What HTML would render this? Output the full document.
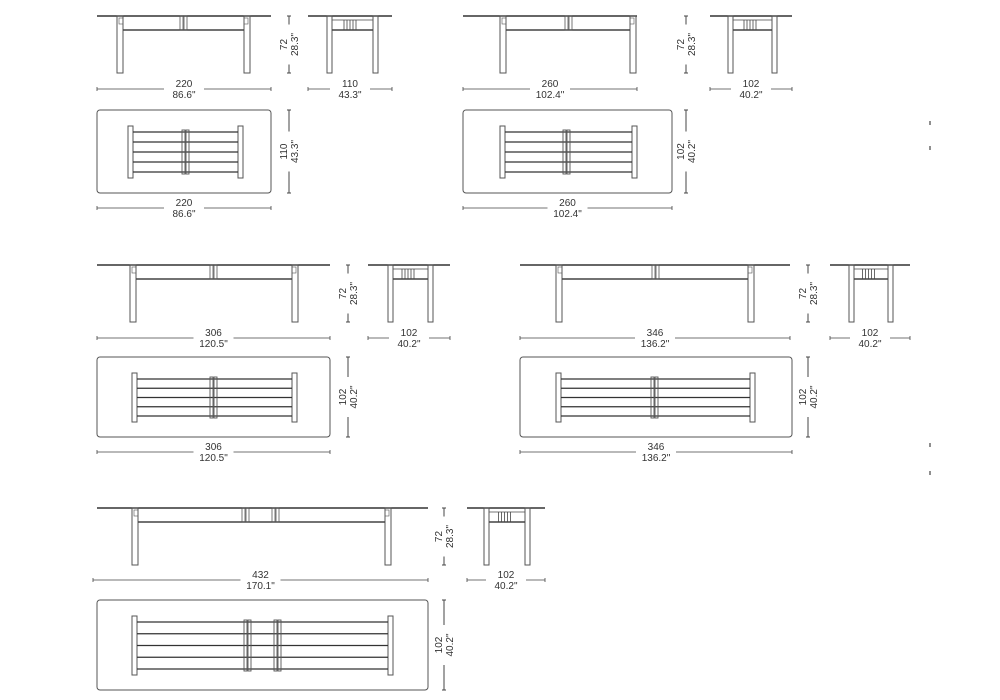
<!DOCTYPE html>
<html><head><meta charset="utf-8"><style>
html,body{margin:0;padding:0;background:#fff;width:1000px;height:700px;overflow:hidden}
svg text{font-family:"Liberation Sans",sans-serif;font-size:10px;fill:#333}
</style></head><body>
<svg id="s" width="1000" height="700" viewBox="0 0 1000 700" xmlns="http://www.w3.org/2000/svg">
<g stroke="#444" stroke-width="1.2">
<line x1="930" y1="121" x2="930" y2="125"/><line x1="930" y1="146" x2="930" y2="150"/>
<line x1="930" y1="443" x2="930" y2="447"/><line x1="930" y1="471" x2="930" y2="475"/>
</g>
</svg>
<script>
var S=document.getElementById('s'),NS='http://www.w3.org/2000/svg';
function el(t,a,txt){var e=document.createElementNS(NS,t);for(var k in a)e.setAttribute(k,a[k]);if(txt)e.textContent=txt;S.appendChild(e);return e;}
function ln(x1,y1,x2,y2,w,c){el('line',{x1:x1,y1:y1,x2:x2,y2:y2,stroke:c||'#444','stroke-width':w||1});}
function rc(x,y,w,h,sw,r){el('rect',{x:x,y:y,width:w,height:h,fill:'none',stroke:'#555','stroke-width':sw||1,rx:r||0});}
function hdim(x0,x1,y,a,b){var m=(x0+x1)/2;ln(x0,y,m-20,y,0.8);ln(m+20,y,x1,y,0.8);ln(x0,y-2,x0,y+2,0.8);ln(x1,y-2,x1,y+2,0.8);
el('text',{x:m,y:y-2,'text-anchor':'middle'},a);el('text',{x:m,y:y+9,'text-anchor':'middle'},b);}
function vdim(x,y0,y1,a,b){ln(x,y0,x,y1,1);ln(x-2,y0,x+2,y0,1);ln(x-2,y1,x+2,y1,1);var m=(y0+y1)/2;
el('rect',{x:x-10,y:m-20,width:20,height:40,fill:'#fff'});
el('text',{x:0,y:0,'text-anchor':'middle',transform:'translate('+(x-2)+','+m+') rotate(-90)'},a);
el('text',{x:0,y:0,'text-anchor':'middle',transform:'translate('+(x+9)+','+m+') rotate(-90)'},b);}
function side(x0,x1,y,l1,l2,H,posts){ln(x0,y,x1,y,1.6,'#333');rc(l1,y,6,H);rc(l2,y,6,H);
ln(l1+6,y+14,l2,y+14,1.5);rc(l1+2,y+2,4,6,0.6);rc(l2,y+2,4,6,0.6);
posts.forEach(function(p){rc(p,y,3,14,0.8);rc(p+4,y,3,14,0.8);});}
function end(x0,x1,y,l1,l2,H){ln(x0,y,x1,y,1.6,'#333');rc(l1,y,5,H);rc(l2,y,5,H);
rc(l1+5,y+4,l2-l1-5,10,0.8);var m=(l1+l2)/2;for(var i=-2;i<=2;i++)ln(m+i*3,y+4,m+i*3,y+14,0.8);
ln(l1+5,y+14,l2,y+14,1.5);}
function plan(x0,x1,y0,y1,e1,e2,posts){rc(x0,y0,x1-x0,y1-y0,1,3);var t=y0+16,b=y1-15;
rc(e1,t,5,b-t,1);rc(e2,t,5,b-t,1);var n=5;for(var i=0;i<n;i++){var yy=t+6+i*(b-t-12)/(n-1);ln(e1+5,yy,e2,yy,1.3,'#333');}
posts.forEach(function(p){rc(p,t+4,3,b-t-8,0.9);rc(p+4,t+4,3,b-t-8,0.9);});}
// set 1
side(97,271,16,117,244,57,[180]);vdim(289,16,73,'72','28.3"');hdim(97,271,89,'220','86.6"');
end(308,392,16,327,373,57);hdim(308,392,89,'110','43.3"');
plan(97,271,110,193,128,238,[182]);vdim(289,110,193,'110','43.3"');hdim(97,271,208,'220','86.6"');
// set 2
side(463,637,16,500,630,57,[565]);vdim(686,16,73,'72','28.3"');hdim(463,637,89,'260','102.4"');
end(710,792,16,728,772,57);hdim(710,792,89,'102','40.2"');
plan(463,672,110,193,500,632,[563]);vdim(686,110,193,'102','40.2"');hdim(463,672,208,'260','102.4"');
// set 3
side(97,330,265,130,292,57,[210]);vdim(348,265,322,'72','28.3"');hdim(97,330,338,'306','120.5"');
end(368,450,265,388,428,57);hdim(368,450,338,'102','40.2"');
plan(97,330,357,437,132,292,[210]);vdim(348,357,437,'102','40.2"');hdim(97,330,452,'306','120.5"');
// set 4
side(520,790,265,556,748,57,[652]);vdim(808,265,322,'72','28.3"');hdim(520,790,338,'346','136.2"');
end(830,910,265,849,888,57);hdim(830,910,338,'102','40.2"');
plan(520,792,357,437,556,750,[651]);vdim(808,357,437,'102','40.2"');hdim(520,792,452,'346','136.2"');
// set 5
side(97,428,508,132,385,57,[242,272]);vdim(444,508,565,'72','28.3"');hdim(93,428,580,'432','170.1"');
end(467,545,508,484,525,57);hdim(467,545,580,'102','40.2"');
plan(97,428,600,690,132,388,[244,274]);vdim(444,600,690,'102','40.2"');
</script>
</body></html>
